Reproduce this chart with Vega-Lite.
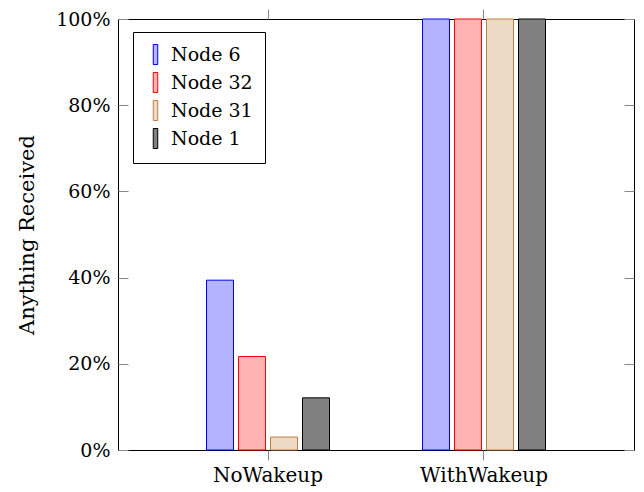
{
  "$schema": "https://vega.github.io/schema/vega-lite/v6.json",
  "width": 516,
  "height": 431,
  "autosize": {"type": "none"},
  "padding": {"left": 118, "top": 19, "right": 10, "bottom": 42},
  "background": "white",
  "config": {
    "font": "DejaVu Serif",
    "axis": {"labelFont": "DejaVu Serif", "titleFont": "DejaVu Serif"},
    "legend": {"labelFont": "DejaVu Serif", "titleFont": "DejaVu Serif"},
    "view": {"stroke": "black", "strokeWidth": 1}
  },
  "data": {
    "values": [
      {"cond": "NoWakeup", "node": "Node 6", "value": 39.4},
      {"cond": "NoWakeup", "node": "Node 32", "value": 21.7},
      {"cond": "NoWakeup", "node": "Node 31", "value": 3.0},
      {"cond": "NoWakeup", "node": "Node 1", "value": 12.1},
      {"cond": "WithWakeup", "node": "Node 6", "value": 100},
      {"cond": "WithWakeup", "node": "Node 32", "value": 100},
      {"cond": "WithWakeup", "node": "Node 31", "value": 100},
      {"cond": "WithWakeup", "node": "Node 1", "value": 100}
    ]
  },
  "resolve": {"axis": {"x": "independent", "y": "independent"}},
  "layer": [
    {
      "mark": {"type": "bar", "strokeWidth": 1},
      "encoding": {
        "x": {
          "field": "cond",
          "type": "nominal",
          "sort": ["NoWakeup", "WithWakeup"],
          "scale": {"paddingInner": 0.2824, "paddingOuter": 0.3357},
          "axis": {
            "title": null,
            "orient": "bottom",
            "labelAngle": 0,
            "labelFontSize": 20,
            "labelColor": "black",
            "labelPadding": 5,
            "domain": false,
            "tickSize": 10,
            "tickColor": "#888888",
            "grid": false
          }
        },
        "xOffset": {
          "field": "node",
          "type": "nominal",
          "sort": ["Node 6", "Node 32", "Node 31", "Node 1"],
          "scale": {"paddingInner": 0.156, "paddingOuter": 0.5}
        },
        "y": {
          "field": "value",
          "type": "quantitative",
          "scale": {"domain": [0, 100], "nice": false},
          "axis": {
            "title": "Anything Received",
            "orient": "left",
            "titleFontSize": 21,
            "titleFontWeight": "normal",
            "titleColor": "black",
            "titlePadding": 18,
            "values": [0, 20, 40, 60, 80, 100],
            "labelExpr": "datum.value + '%'",
            "labelFontSize": 19,
            "labelColor": "black",
            "labelPadding": 18,
            "domain": false,
            "tickSize": -10,
            "tickColor": "#888888",
            "grid": false
          }
        },
        "fill": {
          "field": "node",
          "type": "nominal",
          "sort": ["Node 6", "Node 32", "Node 31", "Node 1"],
          "scale": {"domain": ["Node 6", "Node 32", "Node 31", "Node 1"], "range": ["#b3b3ff", "#ffb3b3", "#ecd9c6", "#808080"]},
          "legend": {
            "title": null,
            "orient": "none",
            "legendX": 15,
            "legendY": 13,
            "symbolType": "M-0.225,-1H0.225V1H-0.225Z",
            "symbolSize": 400,
            "symbolStrokeWidth": 1,
            "symbolOpacity": 1,
            "labelFontSize": 19,
            "labelColor": "black",
            "labelOffset": 5,
            "rowPadding": 3,
            "padding": 12,
            "strokeColor": "black",
            "fillColor": "white"
          }
        },
        "stroke": {
          "field": "node",
          "type": "nominal",
          "sort": ["Node 6", "Node 32", "Node 31", "Node 1"],
          "scale": {"domain": ["Node 6", "Node 32", "Node 31", "Node 1"], "range": ["#0000ff", "#ff0000", "#bf8040", "#000000"]},
          "legend": {
            "title": null,
            "orient": "none",
            "legendX": 15,
            "legendY": 13,
            "symbolType": "M-0.225,-1H0.225V1H-0.225Z",
            "symbolSize": 400,
            "symbolStrokeWidth": 1,
            "labelFontSize": 19,
            "labelColor": "black",
            "labelOffset": 5,
            "rowPadding": 3,
            "padding": 12,
            "strokeColor": "black",
            "fillColor": "white"
          }
        }
      }
    },
    {
      "mark": {"type": "bar", "opacity": 0},
      "encoding": {
        "x": {
          "field": "cond",
          "type": "nominal",
          "sort": ["NoWakeup", "WithWakeup"],
          "axis": {
            "title": null,
            "orient": "top",
            "labels": false,
            "domain": false,
            "tickSize": 10,
            "tickColor": "#888888",
            "grid": false
          }
        },
        "y": {
          "field": "value",
          "type": "quantitative",
          "axis": {
            "title": null,
            "orient": "right",
            "values": [0, 20, 40, 60, 80, 100],
            "labels": false,
            "domain": false,
            "tickSize": -10,
            "tickColor": "#888888",
            "grid": false
          }
        }
      }
    }
  ]
}
